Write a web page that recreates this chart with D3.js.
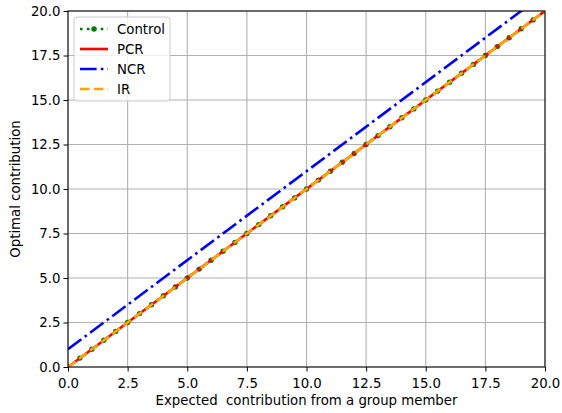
<!DOCTYPE html>
<html><head><meta charset="utf-8">
<script src="https://cdn.jsdelivr.net/npm/d3@7"></script>
<style>body{margin:0;background:#fff}svg{display:block}text{font-family:"DejaVu Sans",sans-serif}</style>
</head><body>
<script>
const controlX = [0,0.5,1,1.5,2,2.5,3,3.5,4,4.5,5,5.5,6,6.5,7,7.5,8,8.5,9,9.5,10,10.5,11,11.5,12,12.5,13,13.5,14,14.5,15,15.5,16,16.5,17,17.5,18,18.5,19,19.5,20];
const controlY = [0,0.5,1,1.5,2,2.5,3,3.5,4,4.5,5,5.5,6,6.5,7,7.5,8,8.5,9,9.5,10,10.5,11,11.5,12,12.5,13,13.5,14,14.5,15,15.5,16,16.5,17,17.5,18,18.5,19,19.5,20];
const pcrX = [0,20];
const pcrY = [0,20];
const ncrX = [0,20];
const ncrY = [1,21];
const irX = [0,20];
const irY = [0,20];
const tickValues = [0,2.5,5,7.5,10,12.5,15,17.5,20];
const legendLabels = ["Control","PCR","NCR","IR"];

const W=562,H=413, L=68, R=545, T=11, B=367;
const FS = 13.3, LW = 2.6;
const svg = d3.select("body").append("svg").attr("width",W).attr("height",H);
const x = d3.scaleLinear().domain([0,20]).range([L,R]);
const y = d3.scaleLinear().domain([0,20]).range([B,T]);

const g = svg.append("g");
tickValues.forEach(v=>{
  g.append("line").attr("x1",x(v)).attr("x2",x(v)).attr("y1",T).attr("y2",B).attr("stroke","#b0b0b0").attr("stroke-width",1.1);
  g.append("line").attr("y1",y(v)).attr("y2",y(v)).attr("x1",L).attr("x2",R).attr("stroke","#b0b0b0").attr("stroke-width",1.1);
});

svg.append("defs").append("clipPath").attr("id","clip").append("rect").attr("x",L).attr("y",T).attr("width",R-L).attr("height",B-T);
const plot = svg.append("g").attr("clip-path","url(#clip)");
const line = d3.line().x(d=>x(d[0])).y(d=>y(d[1]));
const zip=(a,b)=>a.map((v,i)=>[v,b[i]]);

const DOT="2.6,4.3", DASHDOT="16.6,4.2,2.6,4.2", DASH="9.6,4.2";
const ctrl = zip(controlX,controlY);
plot.append("path").attr("d",line(ctrl)).attr("fill","none").attr("stroke","green").attr("stroke-width",LW).attr("stroke-dasharray",DOT);
plot.selectAll("circle.c").data(ctrl).enter().append("circle").attr("cx",d=>x(d[0])).attr("cy",d=>y(d[1])).attr("r",2.7).attr("fill","green");
plot.append("path").attr("d",line(zip(pcrX,pcrY))).attr("fill","none").attr("stroke","red").attr("stroke-width",LW);
plot.append("path").attr("d",line(zip(ncrX,ncrY))).attr("fill","none").attr("stroke","blue").attr("stroke-width",LW).attr("stroke-dasharray",DASHDOT);
plot.append("path").attr("d",line(zip(irX,irY))).attr("fill","none").attr("stroke","orange").attr("stroke-width",LW).attr("stroke-dasharray",DASH);

const xa = svg.append("g").attr("transform",`translate(0,${B})`).call(d3.axisBottom(x).tickValues(tickValues).tickFormat(d3.format(".1f")).tickSize(4.5).tickSizeOuter(0));
const ya = svg.append("g").attr("transform",`translate(${L},0)`).call(d3.axisLeft(y).tickValues(tickValues).tickFormat(d3.format(".1f")).tickSize(4.5).tickSizeOuter(0));
[xa,ya].forEach(a=>{a.select(".domain").remove();a.selectAll("text").attr("font-size",FS).attr("fill","#000").attr("font-family","DejaVu Sans");a.selectAll("line").attr("stroke","#000").attr("stroke-width",1);});
xa.selectAll("text").attr("dy","1.0em");
svg.append("rect").attr("x",L).attr("y",T).attr("width",R-L).attr("height",B-T).attr("fill","none").attr("stroke","#000").attr("stroke-width",1);

svg.append("text").attr("x",(L+R)/2).attr("y",405).attr("text-anchor","middle").attr("font-size",FS).style("white-space","pre").text("Expected  contribution from a group member");
svg.append("text").attr("transform",`translate(20,${(T+B)/2}) rotate(-90)`).attr("text-anchor","middle").attr("font-size",FS).text("Optimal contribution");

const lg = svg.append("g");
lg.append("rect").attr("x",74).attr("y",17).attr("width",96).attr("height",84).attr("rx",3).attr("fill","#fff").attr("fill-opacity",0.8).attr("stroke","#ccc").attr("stroke-width",1);
const styles = [
  {c:"green",d:DOT,m:true},
  {c:"red",d:null},
  {c:"blue",d:DASHDOT},
  {c:"orange",d:DASH}
];
legendLabels.forEach((lab,i)=>{
  const yy = 29 + i*20;
  const s = styles[i];
  const l = lg.append("line").attr("x1",80).attr("x2",108).attr("y1",yy).attr("y2",yy).attr("stroke",s.c).attr("stroke-width",LW);
  if(s.d) l.attr("stroke-dasharray",s.d);
  if(s.m) lg.append("circle").attr("cx",94).attr("cy",yy).attr("r",2.7).attr("fill",s.c);
  lg.append("text").attr("x",117).attr("y",yy+4.7).attr("font-size",FS).text(lab);
});
</script>
</body></html>
